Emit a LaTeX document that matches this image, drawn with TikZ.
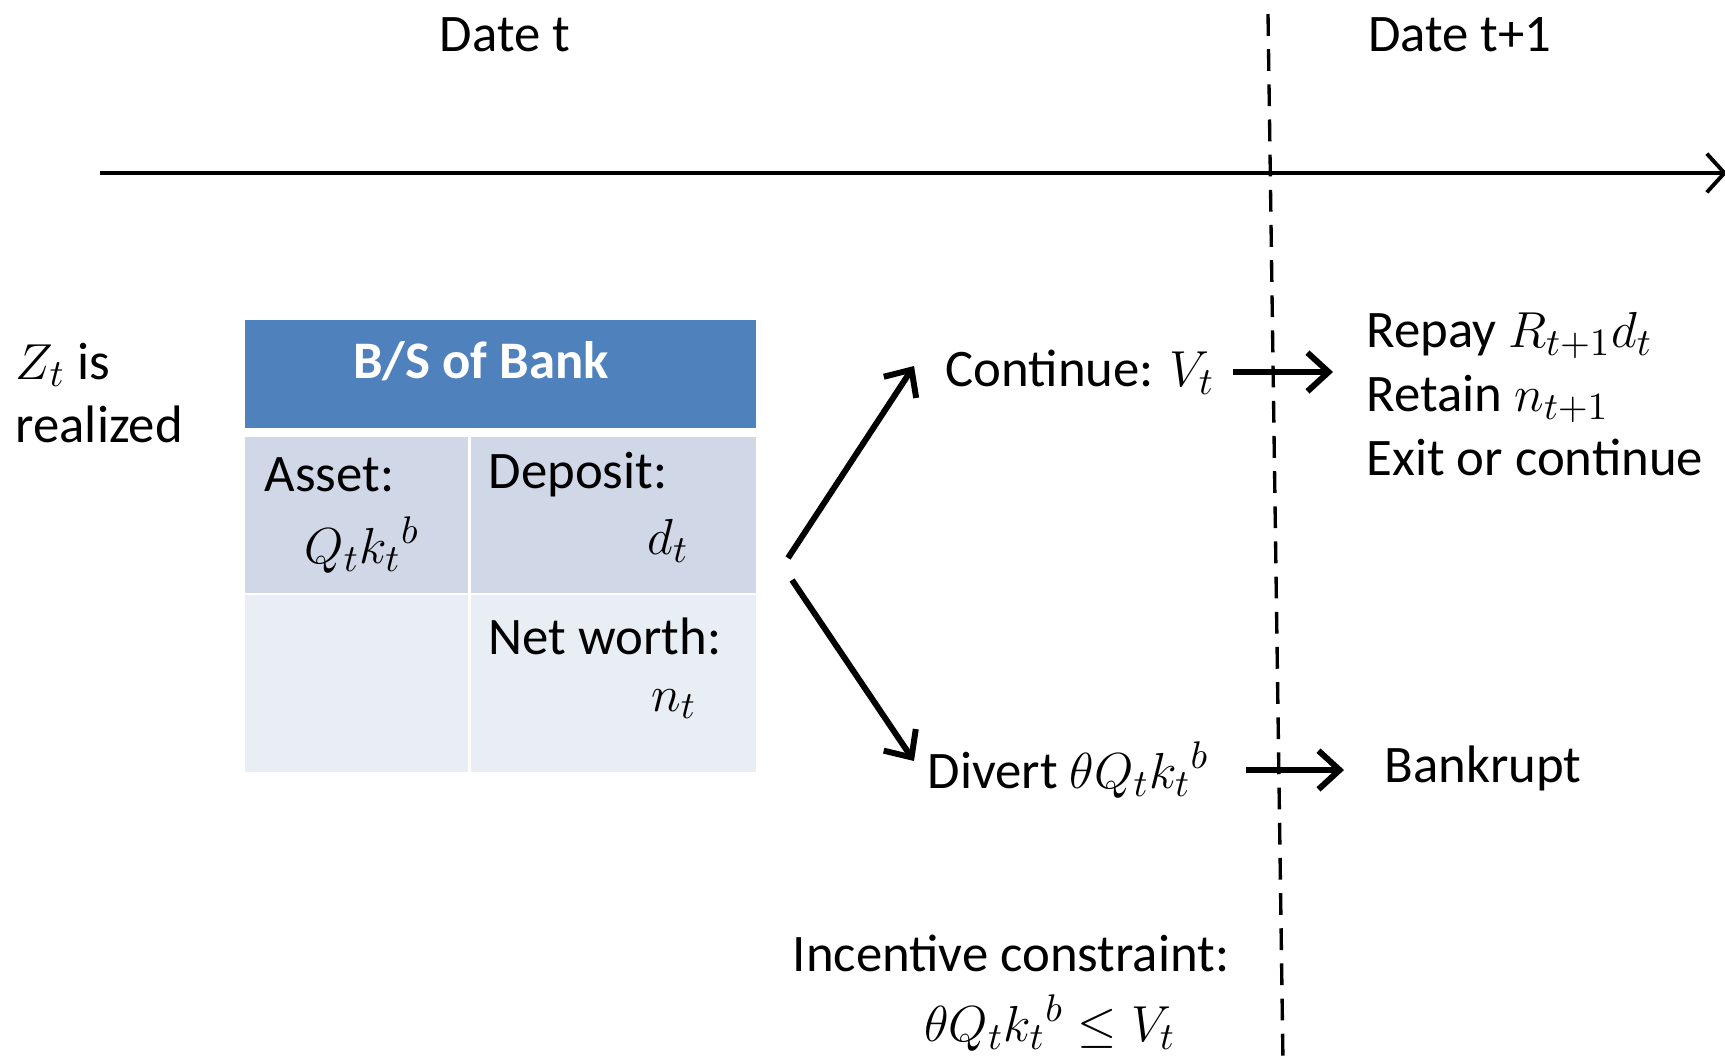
\documentclass[tikz,border=0pt]{standalone}
\usepackage{fontspec}
\setmainfont{Carlito}
\usetikzlibrary{arrows.meta}
\definecolor{hdrblue}{HTML}{4F81BD}
\definecolor{rowdark}{HTML}{D0D8E8}
\definecolor{rowlight}{HTML}{E9EDF4}
\begin{document}
\begin{tikzpicture}[x=0.01cm,y=-0.01cm,
  txt/.style={font=\fontsize{15}{18.1}\selectfont,inner sep=0pt},
  cell/.style={inner sep=0pt,anchor=north west},
  arr/.style={line width=1.7pt,-{Straight Barb[length=6pt,width=11pt]}}]
  \useasboundingbox (0,0) rectangle (1725,1063);

  % time line and date split
  \coordinate (t0) at (100,173);
  \coordinate (t1) at (1727,173);
  \coordinate (s0) at (1268,14);
  \coordinate (s1) at (1283,1063);
  \draw[line width=1.1pt,-{Straight Barb[length=5pt,width=11pt]}] (t0) -- (t1);
  \draw[line width=0.95pt,dash pattern=on 6.2pt off 3.8pt] (s0) -- (s1);

  \node[txt] (datet) at (505,35) {Date t};
  \node[txt] (datet1) at (1460,35) {Date t+1};
  \node[txt,anchor=west,align=left] (zt) at (15,393) {$Z_t$ is\\realized};

  % balance sheet
  \node[cell,fill=hdrblue,minimum width=5.11cm,minimum height=1.08cm] (hdr) at (244,319) {};
  \node[cell,fill=rowdark,minimum width=2.23cm,minimum height=1.56cm] (a1) at (244,436) {};
  \node[cell,fill=rowdark,minimum width=2.85cm,minimum height=1.56cm] (d1) at (470,436) {};
  \node[cell,fill=rowlight,minimum width=2.23cm,minimum height=1.77cm] (a2) at (244,594) {};
  \node[cell,fill=rowlight,minimum width=2.85cm,minimum height=1.77cm] (n2) at (470,594) {};

  \node[txt,text=white,font=\fontsize{15}{18.1}\selectfont\bfseries] (title) at (481,361) {B/S of Bank};
  \node[txt,anchor=west] (asset) at (264,475) {Asset:};
  \node[txt] (assetv) at (362,545) {$Q_t{k_t}^b$};
  \node[txt,anchor=west] (dep) at (488,475) {Deposit:};
  \node[txt] (depv) at (668,541) {$d_t$};
  \node[txt,anchor=west] (nw) at (488,636) {Net worth:};
  \node[txt] (nwv) at (674,704) {$n_t$};

  % choices
  \node[txt,anchor=west] (cont) at (945,372) {Continue: $V_t$};
  \node[txt,anchor=west] (div) at (927,770) {Divert $\theta Q_t{k_t}^b$};
  \node[txt,anchor=west,align=left] (repay) at (1366,394)
    {Repay $R_{t+1}d_t$\\Retain $n_{t+1}$\\Exit or continue};
  \node[txt,anchor=west] (bank) at (1384,768) {Bankrupt};
  \node[txt,anchor=west] (ic) at (792,953) {Incentive constraint:};
  \node[txt] (icv) at (1050,1023) {$\theta Q_t{k_t}^b \le V_t$};

  \coordinate (f1) at (788,558);
  \coordinate (f2) at (792,580);
  \coordinate (c0) at (914,366);
  \coordinate (v0) at (914,761);
  \coordinate (c1) at (1233,372);
  \coordinate (c2) at (1333,372);
  \coordinate (b1) at (1246,770);
  \coordinate (b2) at (1344,770);

  \path[arr]
   (f1) edge (c0)
   (f2) edge (v0)
   (c1) edge (c2)
   (b1) edge (b2);
\end{tikzpicture}
\end{document}
